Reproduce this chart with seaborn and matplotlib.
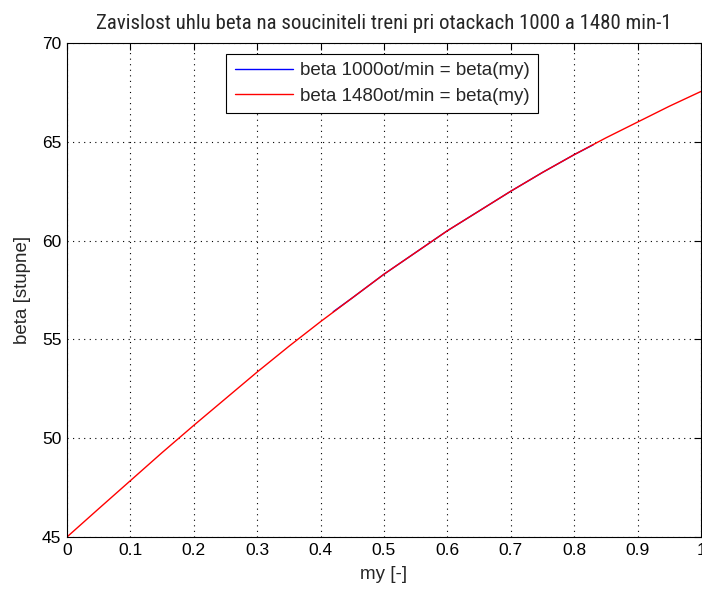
import matplotlib
matplotlib.use("Agg")
import matplotlib.pyplot as plt
import seaborn as sns
import pandas as pd
from matplotlib import font_manager

my_red = [0.0, 0.05, 0.1, 0.15, 0.2, 0.25, 0.3, 0.35, 0.4, 0.45, 0.5,
          0.55, 0.6, 0.65, 0.7, 0.75, 0.8, 0.85, 0.9, 0.95, 1.0]
beta_red = [45.0, 46.43, 47.85, 49.27, 50.65, 52.0, 53.35, 54.65, 55.9, 57.1, 58.3,
            59.4, 60.5, 61.5, 62.5, 63.45, 64.35, 65.2, 66.0, 66.8, 67.55]
my_blue = [0.42, 0.45, 0.5, 0.55, 0.6, 0.65, 0.7, 0.75, 0.8, 0.83]
beta_blue = [56.4, 57.1, 58.3, 59.4, 60.5, 61.5, 62.5, 63.45, 64.35, 64.85]

label_blue = "beta 1000ot/min = beta(my)"
label_red = "beta 1480ot/min = beta(my)"
title = "Zavislost uhlu beta na souciniteli treni pri otackach 1000 a 1480 min-1"
xlabel = "my [-]"
ylabel = "beta [stupne]"
xticks = [0, 0.1, 0.2, 0.3, 0.4, 0.5, 0.6, 0.7, 0.8, 0.9, 1]
xticklabels = ["0", "0.1", "0.2", "0.3", "0.4", "0.5", "0.6", "0.7", "0.8", "0.9", "1"]
yticks = [45, 50, 55, 60, 65, 70]

sns.set_style("white")
names = {f.name for f in font_manager.fontManager.ttflist}
narrow = None
for cand in ["Liberation Sans Narrow", "Roboto Condensed", "Open Sans Condensed",
             "DejaVu Sans Condensed"]:
    if cand in names:
        narrow = cand
        break
if narrow is None:
    for f in font_manager.fontManager.ttflist:
        if "condensed" in str(f.stretch).lower() or "Condensed" in f.fname:
            if "Bold" not in f.fname and "Oblique" not in f.fname and "Italic" not in f.fname:
                narrow = f.name
                break
plt.rcParams["font.family"] = ["Liberation Sans", "DejaVu Sans"]

if narrow is not None:
    title_kw = dict(family=[narrow, "DejaVu Sans"], stretch="condensed", size=15)
else:
    title_kw = dict(family=["Liberation Sans", "DejaVu Sans"], size=11.5)

df_b = pd.DataFrame({"my": my_blue, "beta": beta_blue})
df_r = pd.DataFrame({"my": my_red, "beta": beta_red})

fig = plt.figure(figsize=(7.02, 5.95), dpi=100)
ax = fig.add_axes([0.0954, 0.0975, 0.9032, 0.8302])
sns.lineplot(data=df_b, x="my", y="beta", ax=ax, color="#0000ff", lw=1.0, label=label_blue)
sns.lineplot(data=df_r, x="my", y="beta", ax=ax, color="#ff0000", lw=1.0, label=label_red)

ax.set_xlim(0, 1)
ax.set_ylim(45, 70)
ax.set_xticks(xticks)
ax.set_xticklabels(xticklabels)
ax.set_yticks(yticks)
ax.tick_params(direction="in", length=5, width=0.8, top=True, right=True,
               labelsize=12.5, colors="black", pad=4)
ax.grid(True, linestyle=(0, (1, 4)), color="black", linewidth=0.8)
for s in ax.spines.values():
    s.set_visible(True)
    s.set_color("black")
    s.set_linewidth(0.8)
ax.set_title(title, pad=10, **title_kw)
ax.set_xlabel(xlabel, fontsize=13.5, labelpad=6)
ax.set_ylabel(ylabel, fontsize=13.5, labelpad=8)
leg = ax.legend(loc="upper center", bbox_to_anchor=(0.497, 0.978), fontsize=13.5,
                frameon=True, fancybox=False, framealpha=1, edgecolor="black",
                handlelength=3.1, handletextpad=0.35, borderpad=0.45, labelspacing=0.45,
                borderaxespad=0.0)
leg.get_frame().set_linewidth(0.8)
fig.savefig("out.png", dpi=100)
